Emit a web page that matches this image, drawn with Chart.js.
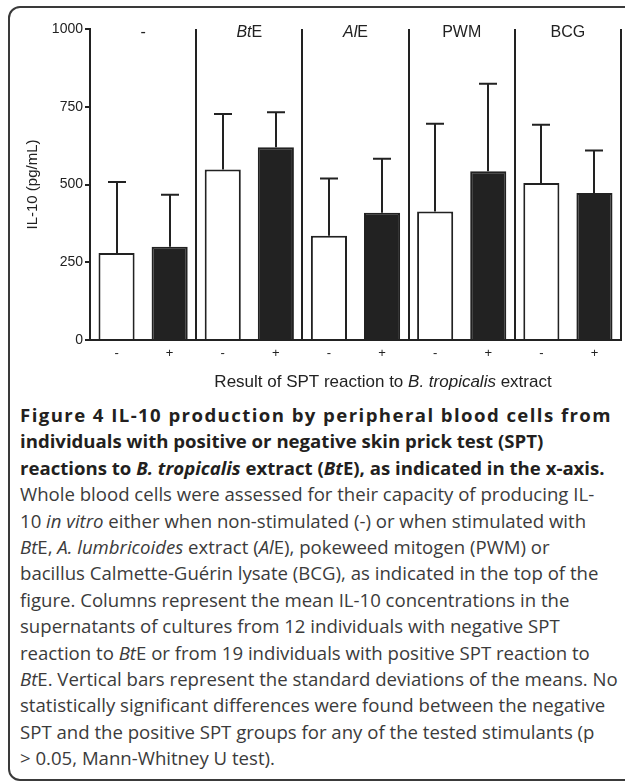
<!DOCTYPE html>
<html>

<head>
  <script src="https://cdn.jsdelivr.net/npm/chart.js@4.4.1/dist/chart.umd.min.js"></script>
  <style>
    body { margin: 0; width: 625px; height: 782px; overflow: hidden; background: #fff; position: relative; }
    .frame { position: absolute; left: 8px; top: 6px; width: 720px; height: 775px; border: 2px solid #3a3a3a; border-radius: 12px; box-sizing: border-box; }
    .chart-box { position: absolute; left: 0; top: 0; width: 625px; height: 400px; }
    .caption { position: absolute; left: 20px; top: 402px; width: 592px; font-family: 'Open Sans'; font-size: 18.6px; line-height: 26.4px; color: #3b3b3b; }
    .caption div { white-space: nowrap; }
    .caption .t { font-weight: bold; color: #231f20; }
  </style>
</head>

<body>
  <div class="frame"></div>
  <div class="chart-box">
    <canvas id="myChart" width="625" height="400"></canvas>
  </div>
  <div class="caption">
    <div class="t" id="l1"><span>Figure 4 IL-10 production by peripheral blood cells from</span></div>
    <div class="t">individuals with positive or negative skin prick test (SPT)</div>
    <div class="t">reactions to <i>B. tropicalis</i> extract (<i>Bt</i>E), as indicated in the x-axis.</div>
    <div>Whole blood cells were assessed for their capacity of producing IL-</div>
    <div>10 <i>in vitro</i> either when non-stimulated (-) or when stimulated with</div>
    <div><i>Bt</i>E, <i>A. lumbricoides</i> extract (<i>Al</i>E), pokeweed mitogen (PWM) or</div>
    <div>bacillus Calmette-Guérin lysate (BCG), as indicated in the top of the</div>
    <div>figure. Columns represent the mean IL-10 concentrations in the</div>
    <div>supernatants of cultures from 12 individuals with negative SPT</div>
    <div>reaction to <i>Bt</i>E or from 19 individuals with positive SPT reaction to</div>
    <div><i>Bt</i>E. Vertical bars represent the standard deviations of the means. No</div>
    <div>statistically significant differences were found between the negative</div>
    <div>SPT and the positive SPT groups for any of the tested stimulants (p</div>
    <div>&gt; 0.05, Mann-Whitney U test).</div>
  </div>
  <script type="text/javascript">
    // SPT result per column
    var categories = ['-', '+', '-', '+', '-', '+', '-', '+', '-', '+'];
    // mean IL-10 (pg/mL)
    var means = [280, 300, 548, 620, 335, 409, 413, 543, 505, 473];
    // standard deviations (drawn upward only)
    var sds = [228, 167, 179, 112, 184, 174, 282, 281, 187, 136];
    // stimulant groups at the top
    var groupItalic = ['', 'Bt', 'Al', '', ''];
    var groupRest = ['-', 'E', 'E', 'PWM', 'BCG'];
    var yTicks = [0, 250, 500, 750, 1000];

    var FONT = '"Liberation Sans", Arial, sans-serif';
    var INK = '#222';

    function drawMixed(ctx, parts, cx, y, size) {
      var w = 0;
      parts.forEach(function(p) {
        ctx.font = (p[1] ? 'italic ' : '') + size + 'px ' + FONT;
        w += ctx.measureText(p[0]).width;
      });
      var x0 = cx - w / 2;
      parts.forEach(function(p) {
        ctx.font = (p[1] ? 'italic ' : '') + size + 'px ' + FONT;
        ctx.fillText(p[0], x0, y);
        x0 += ctx.measureText(p[0]).width;
      });
    }

    var overlay = {
      id: 'overlay',
      afterDatasetsDraw: function(chart) {
        var ctx = chart.ctx;
        var y = chart.scales.y;
        var meta = chart.getDatasetMeta(0);
        ctx.save();
        ctx.strokeStyle = INK;
        ctx.lineWidth = 2;
        means.forEach(function(m, i) {
          var px = Math.round(meta.data[i].x);
          var top = y.getPixelForValue(m + sds[i]);
          var base = y.getPixelForValue(m);
          ctx.beginPath();
          ctx.moveTo(px, base);
          ctx.lineTo(px, top);
          ctx.moveTo(px - 9, top);
          ctx.lineTo(px + 9, top);
          ctx.stroke();
        });
        ctx.restore();
      },
      afterDraw: function(chart) {
        var ctx = chart.ctx;
        var x = chart.scales.x;
        var area = chart.chartArea;
        ctx.save();
        ctx.fillStyle = INK;
        ctx.textBaseline = 'alphabetic';
        ctx.textAlign = 'left';
        // group labels
        groupRest.forEach(function(t, g) {
          var cx = (x.getPixelForValue(2 * g) + x.getPixelForValue(2 * g + 1)) / 2;
          var parts = [];
          if (groupItalic[g]) parts.push([groupItalic[g], true]);
          parts.push([t, false]);
          drawMixed(ctx, parts, cx, area.top + 8, 16);
        });
        // x axis title
        drawMixed(ctx, [['Result of SPT reaction to ', false], ['B. tropicalis', true], [' extract', false]],
          383, 387, 17);
        ctx.restore();
      }
    };

    var ctx = document.getElementById('myChart').getContext('2d');
    var chart = new Chart(ctx, {
      type: 'bar',
      data: {
        labels: categories,
        datasets: [{
          data: means,
          backgroundColor: categories.map(function(c) { return c === '+' ? INK : '#fff'; }),
          borderColor: INK,
          borderWidth: 2,
          categoryPercentage: 1,
          barPercentage: 0.68
        }]
      },
      options: {
        responsive: false,
        animation: false,
        layout: { padding: { top: 29, right: 4, left: 0, bottom: 0 } },
        plugins: { legend: { display: false }, tooltip: { enabled: false } },
        scales: {
          x: {
            afterFit: function(s) { s.height = 60; },
            grid: {
              offset: true,
              drawTicks: false,
              lineWidth: 2,
              color: function(c) {
                if (c.index === undefined) return INK;
                return (c.index > 0 && c.index % 2 === 0) ? INK : 'rgba(0,0,0,0)';
              }
            },
            border: { color: INK, width: 2 },
            ticks: { color: INK, font: { family: FONT, size: 13 }, padding: 6 }
          },
          y: {
            min: 0,
            max: 1000,
            afterFit: function(s) { s.width = 90; },
            afterBuildTicks: function(s) { s.ticks = yTicks.map(function(v) { return { value: v }; }); },
            grid: { drawOnChartArea: false, tickLength: 5, color: INK, lineWidth: 2 },
            border: { color: INK, width: 2 },
            ticks: { color: INK, font: { family: FONT, size: 14 }, padding: 2, callback: function(v) { return String(v); } },
            title: { display: true, text: 'IL-10 (pg/mL)', color: INK, font: { family: FONT, size: 15 }, padding: { top: 24 } }
          }
        }
      },
      plugins: [overlay]
    });

    // stretch the first caption line to the full width
    var l1 = document.getElementById('l1');
    var nat = l1.firstElementChild.getBoundingClientRect().width;
    var n = l1.textContent.length;
    l1.style.letterSpacing = ((592 - nat) / n) + 'px';
  </script>
</body>

</html>
